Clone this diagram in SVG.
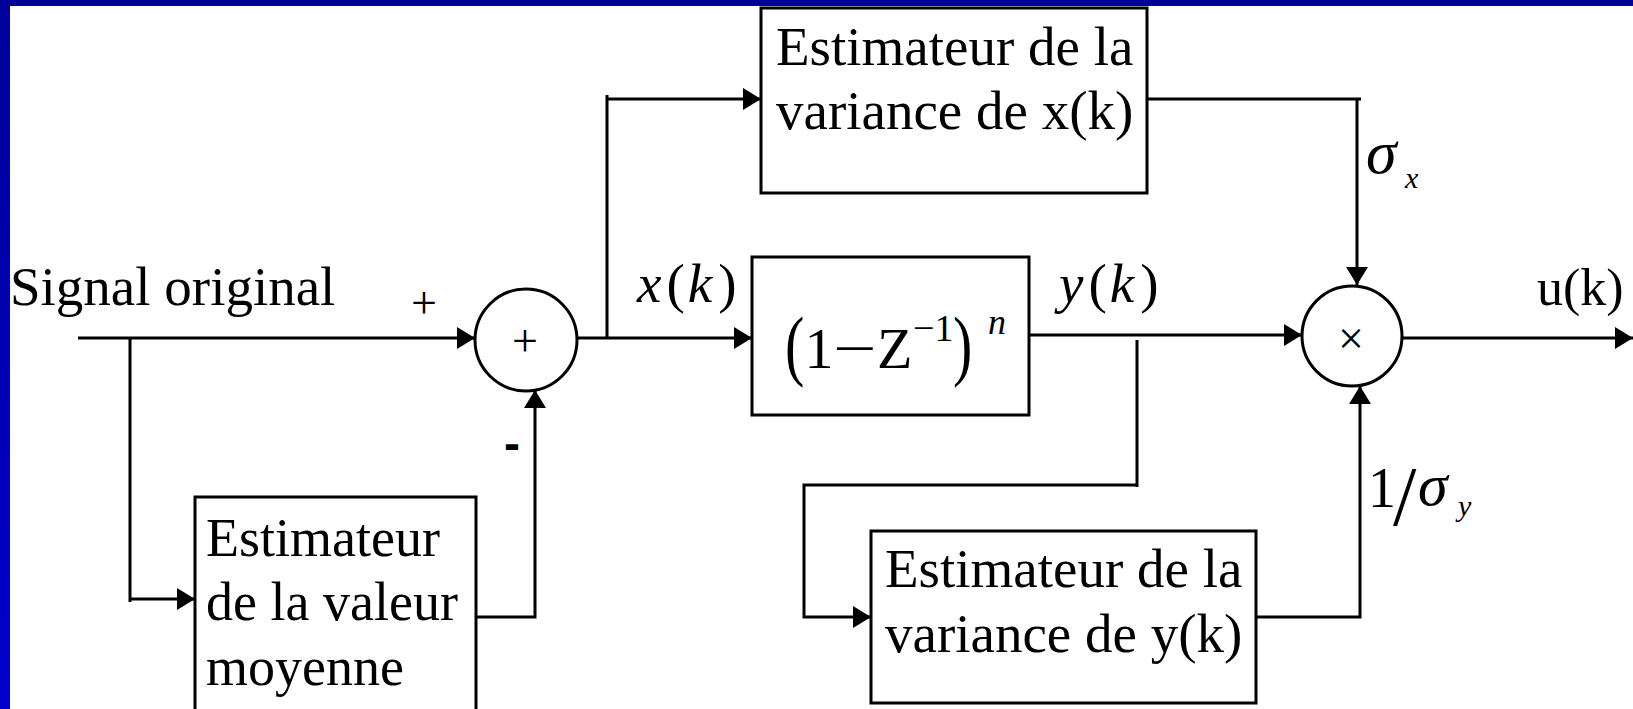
<svg xmlns="http://www.w3.org/2000/svg" width="1633" height="709" viewBox="0 0 1633 709">
<style>
.ln{fill:none;stroke:#000;stroke-width:3}
.bx{fill:#fff;stroke:#000;stroke-width:3}
.t{font-family:"Liberation Serif","Times New Roman",serif;fill:#000}
.it{font-style:italic}
</style>
<defs>
<linearGradient id="lb" x1="0" y1="0" x2="0" y2="1">
<stop offset="0" stop-color="#000099"/>
<stop offset="1" stop-color="#0000CC"/>
</linearGradient>
<marker id="arr" viewBox="0 0 18 22" refX="18" refY="11" markerWidth="18" markerHeight="22" orient="auto" markerUnits="userSpaceOnUse">
<path d="M0,0 L18,11 L0,22 Z" fill="#000"/>
</marker>
</defs>
<rect x="0" y="0" width="1633" height="709" fill="#fff"/>
<rect x="0" y="0" width="1633" height="6" fill="#000099"/>
<rect x="0" y="0" width="10" height="709" fill="url(#lb)"/>

<g id="connectors">
<path class="ln" d="M78,338 H475" marker-end="url(#arr)"/>
<path class="ln" d="M130,338 V602 M130,599 H195" marker-end="url(#arr)"/>
<path class="ln" d="M469,617 H535 V390" marker-end="url(#arr)"/>
<path class="ln" d="M577,338 H752" marker-end="url(#arr)"/>
<path class="ln" d="M607,338 V95 M607,99 H761" marker-end="url(#arr)"/>
<path class="ln" d="M1147,99 H1361 M1357,99 V285" marker-end="url(#arr)"/>
<path class="ln" d="M1029,335 H1302" marker-end="url(#arr)"/>
<path class="ln" d="M1137,340 V487 M1137,485 H804 V617 H871" marker-end="url(#arr)"/>
<path class="ln" d="M1256,617 H1360 V386" marker-end="url(#arr)"/>
<path class="ln" d="M1403,338 H1633" marker-end="url(#arr)"/>
</g>

<g id="label-signal">
<text class="t" x="10" y="305" font-size="55">Signal original</text>
</g>
<g id="label-plus">
<text class="t" x="424" y="318" font-size="46" text-anchor="middle">+</text>
</g>
<g id="label-minus">
<text x="512" y="460" font-size="48" font-weight="bold" font-family="Liberation Sans, Arial, sans-serif" text-anchor="middle">-</text>
</g>

<g id="sum">
<circle class="bx" cx="526" cy="340" r="51"/>
<text class="t" x="525" y="356" font-size="46" text-anchor="middle">+</text>
</g>

<g id="mean-estimator">
<rect class="bx" x="195" y="497" width="281" height="214"/>
<text class="t" x="206" y="556" font-size="54">Estimateur</text>
<text class="t" x="206" y="620" font-size="54">de la valeur</text>
<text class="t" x="206" y="685" font-size="54">moyenne</text>
</g>

<g id="var-x-estimator">
<rect class="bx" x="761" y="8" width="386" height="185"/>
<text class="t" x="776" y="65" font-size="55">Estimateur de la</text>
<text class="t" x="776" y="129" font-size="55">variance de x(k)</text>
</g>

<g id="filter">
<rect class="bx" x="752" y="257" width="277" height="158"/>
<text class="t" transform="translate(785,371) scale(1,1.35)" font-size="58">(</text>
<text class="t" x="804.5" y="368" font-size="58">1</text>
<text class="t" transform="translate(833,368) scale(1.33,1)" font-size="58">−</text>
<text class="t" x="877" y="368" font-size="58">Z</text>
<text class="t" x="913" y="341" font-size="38">−1</text>
<text class="t" transform="translate(953,371) scale(1,1.35)" font-size="58">)</text>
<text class="t it" x="988" y="334" font-size="36">n</text>
</g>

<g id="label-xk">
<text class="t" x="637" y="302" font-size="55"><tspan class="it">x</tspan><tspan dx="5">(</tspan><tspan class="it" dx="3">k</tspan><tspan dx="6">)</tspan></text>
</g>
<g id="label-yk">
<text class="t" x="1059" y="302" font-size="55"><tspan class="it">y</tspan><tspan dx="5">(</tspan><tspan class="it" dx="3">k</tspan><tspan dx="6">)</tspan></text>
</g>

<g id="product">
<circle class="bx" cx="1352" cy="336" r="50"/>
<text class="t" x="1351" y="354" font-size="46" text-anchor="middle">×</text>
</g>

<g id="label-sigx">
<text class="t it" x="1366" y="173" font-size="62">σ</text>
<text class="t it" x="1405" y="188" font-size="30">x</text>
</g>

<g id="label-inv-sigy">
<text class="t" x="1368" y="507" font-size="56">1<tspan font-size="84" dx="-3" dy="18">/</tspan></text>
<text class="t it" x="1418" y="505" font-size="60">σ</text>
<text class="t it" x="1458" y="516" font-size="30">y</text>
</g>

<g id="label-uk">
<text class="t" x="1537" y="305" font-size="52">u(k)</text>
</g>

<g id="var-y-estimator">
<rect class="bx" x="871" y="531" width="385" height="172"/>
<text class="t" x="885" y="587" font-size="55">Estimateur de la</text>
<text class="t" x="885" y="652" font-size="55">variance de y(k)</text>
</g>
</svg>
